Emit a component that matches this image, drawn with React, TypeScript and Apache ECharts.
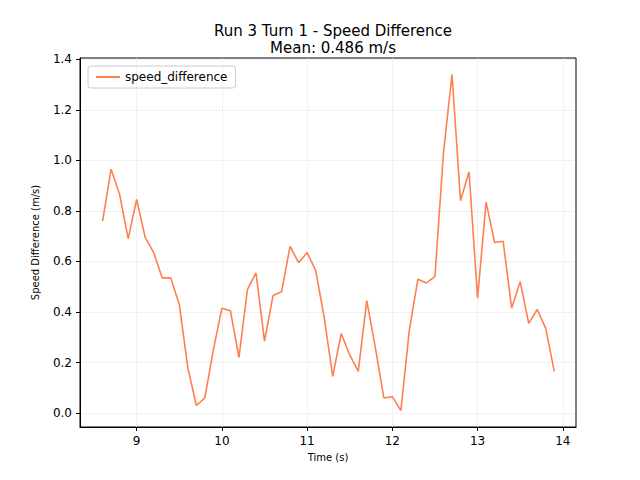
import React, { useEffect, useRef } from "react";
import * as echarts from "echarts";

const times = [8.6,8.7,8.8,8.9,9.0,9.1,9.2,9.3,9.4,9.5,9.6,9.7,9.8,9.9,10.0,10.1,10.2,10.3,10.4,10.5,10.6,10.7,10.8,10.9,11.0,11.1,11.2,11.3,11.4,11.5,11.6,11.7,11.8,11.9,12.0,12.1,12.2,12.3,12.4,12.5,12.6,12.7,12.8,12.9,13.0,13.1,13.2,13.3,13.4,13.5,13.6,13.7,13.8,13.9];
const speedDiff = [0.76,0.965,0.865,0.69,0.845,0.695,0.635,0.535,0.535,0.43,0.18,0.03,0.06,0.25,0.415,0.405,0.22,0.49,0.555,0.285,0.465,0.48,0.66,0.595,0.635,0.565,0.38,0.145,0.315,0.23,0.165,0.445,0.26,0.06,0.065,0.01,0.33,0.53,0.515,0.54,1.03,1.34,0.84,0.955,0.455,0.835,0.675,0.68,0.415,0.52,0.355,0.41,0.335,0.165];
const xTicks = [9, 10, 11, 12, 13, 14];
const yTicks = [0, 0.2, 0.4, 0.6, 0.8, 1.0, 1.2, 1.4];

export default function App() {
  const ref = useRef<HTMLDivElement>(null);
  useEffect(() => {
    const chart = echarts.init(ref.current!, null, { renderer: "svg" });
    const font = "DejaVu Sans";
    chart.setOption({
      animation: false,
      textStyle: { fontFamily: font },
      title: {
        text: "Run 3 Turn 1 - Speed Difference\nMean: 0.486 m/s",
        left: 328, top: 17, textAlign: "center",
        textStyle: { fontFamily: font, fontSize: 15, fontWeight: "normal", color: "#000", lineHeight: 17 },
      },
      grid: { left: 80, right: 64, top: 58, bottom: 53, show: true, borderColor: "#000", borderWidth: 1 },
      legend: {
        show: true, left: 88, top: 66, orient: "vertical",
        borderColor: "#ccc", borderWidth: 1, borderRadius: 3, padding: [5, 8],
        itemWidth: 24, itemHeight: 2,
        textStyle: { fontFamily: font, fontSize: 12, color: "#000" },
        icon: "rect",
        data: ["speed_difference"],
      },
      xAxis: {
        type: "value", min: 8.335, max: 14.155,
        name: "Time (s)", nameLocation: "middle", nameGap: 25,
        nameTextStyle: { fontFamily: font, fontSize: 10, color: "#000" },
        axisLine: { show: true, onZero: false, lineStyle: { color: "#000" } },
        axisTick: { show: true, length: 4, lineStyle: { color: "#000" }, customValues: xTicks },
        axisLabel: { fontFamily: font, fontSize: 12, color: "#000", customValues: xTicks, formatter: (v: number) => String(v) },
        splitLine: { show: true, lineStyle: { color: "#ddd", type: "dotted", width: 0.8 }, customValues: xTicks },
      },
      yAxis: {
        type: "value", min: -0.055, max: 1.405,
        name: "Speed Difference (m/s)", nameLocation: "middle", nameGap: 40,
        nameTextStyle: { fontFamily: font, fontSize: 10, color: "#000" },
        axisLine: { show: true, lineStyle: { color: "#000" } },
        axisTick: { show: true, length: 4, lineStyle: { color: "#000" }, customValues: yTicks },
        axisLabel: { fontFamily: font, fontSize: 12, color: "#000", customValues: yTicks, formatter: (v: number) => v.toFixed(1) },
        splitLine: { show: true, lineStyle: { color: "#ddd", type: "dotted", width: 0.8 }, customValues: yTicks },
      },
      series: [{
        name: "speed_difference", type: "line", showSymbol: false,
        data: times.map((t, i) => [t, speedDiff[i]]),
        lineStyle: { color: "#ff7f50", width: 1.6 }, itemStyle: { color: "#ff7f50" },
      }],
    });
    return () => chart.dispose();
  }, []);
  return <div ref={ref} style={{ width: 640, height: 480, position: "absolute", left: 0, top: 0 }} />;
}
